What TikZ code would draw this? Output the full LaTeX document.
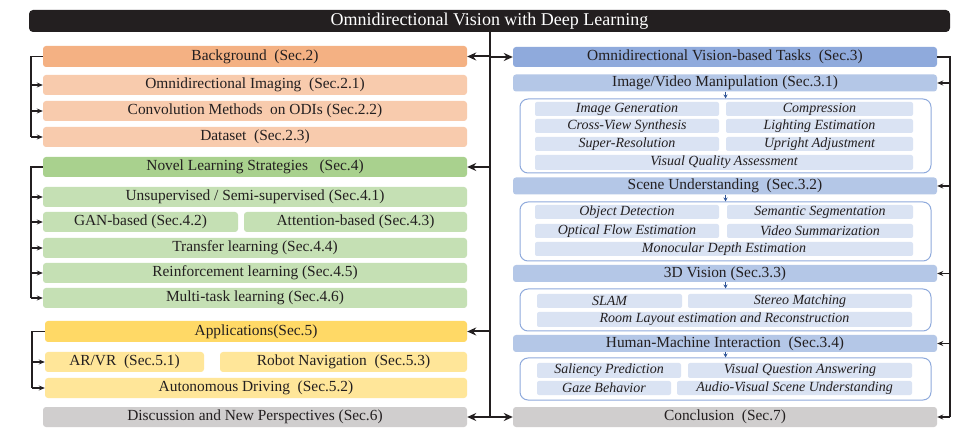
\documentclass[tikz,border=0pt]{standalone}
\usepackage{fontspec}
\setmainfont{Liberation Serif}
\usetikzlibrary{arrows.meta}
\definecolor{ink}{HTML}{231F20}
\definecolor{orgH}{HTML}{F4B183}
\definecolor{orgL}{HTML}{F8CBAD}
\definecolor{grnH}{HTML}{A9D18E}
\definecolor{grnL}{HTML}{C5E0B4}
\definecolor{ylwH}{HTML}{FFD966}
\definecolor{ylwL}{HTML}{FFE699}
\definecolor{gryB}{HTML}{D0CECE}
\definecolor{bluH}{HTML}{8FAADC}
\definecolor{bluM}{HTML}{B4C7E7}
\definecolor{bluL}{HTML}{DAE3F3}
\definecolor{bluA}{HTML}{2F5597}
\tikzset{
  box/.style={rectangle, rounded corners=3pt, inner sep=0pt, text=ink,
    font=\fontsize{15.4}{17}\selectfont},
  item/.style={rectangle, rounded corners=2pt, inner sep=0pt, fill=bluL, text=ink,
    minimum height=14pt, font=\fontsize{14}{15}\selectfont\itshape},
  cont/.style={rectangle, rounded corners=8pt, draw=bluH, line width=1pt, fill=white, inner sep=0pt},
  trunk/.style={draw=ink, line width=2pt},
  tarrow/.style={draw=ink, line width=2pt, -{Stealth[length=9pt,width=8pt]}},
  brk/.style={draw=ink, line width=1.5pt},
  barrow/.style={draw=ink, line width=1.5pt, -{Stealth[length=6pt,width=5pt]}},
  sarrow/.style={draw=bluA, line width=0.8pt, -{Stealth[length=4pt,width=4pt]}},
}
\begin{document}
\begin{tikzpicture}[x=1pt,y=-1pt]
\useasboundingbox[fill=white] (0,0) rectangle (977,435);
% title
\node[rectangle, rounded corners=4pt, fill=ink, text=white, minimum width=921pt, minimum height=22pt,
  inner sep=0pt, font=\fontsize{18}{20}\selectfont] (title) at (489.5,21) {Omnidirectional Vision with Deep Learning};
% left column
\node[box, fill=orgH, minimum width=424pt, minimum height=21pt] (bg) at (255,56.5) {Background\ \ (Sec.2)};
\node[box, fill=orgL, minimum width=424pt, minimum height=20pt] (bg1) at (255,85) {Omnidirectional Imaging\ \ (Sec.2.1)};
\node[box, fill=orgL, minimum width=424pt, minimum height=20pt] (bg2) at (255,111) {Convolution Methods\ \ on ODIs (Sec.2.2)};
\node[box, fill=orgL, minimum width=424pt, minimum height=20pt] (bg3) at (255,137) {Dataset\ \ (Sec.2.3)};
\node[box, fill=grnH, minimum width=424pt, minimum height=20pt] (nl) at (255,167) {Novel Learning Strategies\ \ \ (Sec.4)};
\node[box, fill=grnL, minimum width=424pt, minimum height=20pt] (nl1) at (255,197) {Unsupervised / Semi-supervised (Sec.4.1)};
\node[box, fill=grnL, minimum width=195pt, minimum height=20pt] (nl2) at (140.5,222) {GAN-based (Sec.4.2)};
\node[box, fill=grnL, minimum width=223pt, minimum height=20pt] (nl3) at (355.5,222) {Attention-based (Sec.4.3)};
\node[box, fill=grnL, minimum width=424pt, minimum height=20pt] (nl4) at (255,248) {Transfer learning (Sec.4.4)};
\node[box, fill=grnL, minimum width=424pt, minimum height=20pt] (nl5) at (255,273) {Reinforcement learning (Sec.4.5)};
\node[box, fill=grnL, minimum width=424pt, minimum height=20pt] (nl6) at (255,298) {Multi-task learning (Sec.4.6)};
\node[box, fill=ylwH, minimum width=422pt, minimum height=21pt] (ap) at (256,331.5) {Applications(Sec.5)};
\node[box, fill=ylwL, minimum width=159pt, minimum height=20pt] (ap1) at (124.5,362) {AR/VR\ \ (Sec.5.1)};
\node[box, fill=ylwL, minimum width=247pt, minimum height=20pt] (ap3) at (343.5,362) {Robot Navigation\ \ (Sec.5.3)};
\node[box, fill=ylwL, minimum width=422pt, minimum height=20pt] (ap2) at (256,388) {Autonomous Driving\ \ (Sec.5.2)};
\node[box, fill=gryB, minimum width=424pt, minimum height=20pt] (disc) at (255,417) {Discussion and New Perspectives (Sec.6)};
% right column
\node[box, fill=bluH, minimum width=424pt, minimum height=20pt] (tasks) at (725,57) {Omnidirectional Vision-based Tasks\ \ (Sec.3)};
\node[box, fill=bluM, minimum width=424pt, minimum height=17pt] (ivm) at (725,83) {Image/Video Manipulation (Sec.3.1)};
\node[cont, minimum width=411pt, minimum height=74pt] (c1) at (725.5,136) {};
\node[item, minimum width=184pt] (i1) at (627,109) {Image Generation};
\node[item, minimum width=187pt] (i2) at (819.5,109) {Compression};
\node[item, minimum width=184pt] (i3) at (627,126) {Cross-View Synthesis};
\node[item, minimum width=187pt] (i4) at (819.5,126) {Lighting Estimation};
\node[item, minimum width=184pt] (i5) at (627,144) {Super-Resolution};
\node[item, minimum width=187pt] (i6) at (819.5,144) {Upright Adjustment};
\node[item, minimum width=378pt, minimum height=15pt] (i7) at (724,162.5) {Visual Quality Assessment};
\node[box, fill=bluM, minimum width=424pt, minimum height=17pt] (su) at (725,186) {Scene Understanding\ \ (Sec.3.2)};
\node[cont, minimum width=411pt, minimum height=59pt] (c2) at (725.5,231.5) {};
\node[item, minimum width=184pt] (s1) at (627,212) {Object Detection};
\node[item, minimum width=186pt] (s2) at (820,212) {Semantic Segmentation};
\node[item, minimum width=184pt] (s3) at (627,231) {Optical Flow Estimation};
\node[item, minimum width=186pt] (s4) at (820,231) {Video Summarization};
\node[item, minimum width=378pt] (s5) at (724,249) {Monocular Depth Estimation};
\node[box, fill=bluM, minimum width=424pt, minimum height=17pt] (tdv) at (725,273.5) {3D Vision (Sec.3.3)};
\node[cont, minimum width=411pt, minimum height=42pt] (c3) at (725.5,310) {};
\node[item, minimum width=145pt] (d1) at (609.5,301) {SLAM};
\node[item, minimum width=224pt] (d2) at (800,301) {Stereo Matching};
\node[item, minimum width=375pt, minimum height=15pt] (d3) at (724.5,319.5) {Room Layout estimation and Reconstruction};
\node[box, fill=bluM, minimum width=424pt, minimum height=17pt] (hmi) at (725,343.5) {Human-Machine Interaction\ \ (Sec.3.4)};
\node[cont, minimum width=411pt, minimum height=42pt] (c4) at (725.5,379) {};
\node[item, minimum width=144pt, minimum height=15pt] (h1) at (609,370.5) {Saliency Prediction};
\node[item, minimum width=224pt, minimum height=15pt] (h2) at (800,370.5) {Visual Question Answering};
\node[item, minimum width=134pt] (h3) at (604,388) {Gaze Behavior};
\node[item, minimum width=235pt] (h4) at (794.5,388) {Audio-Visual Scene Understanding};
\node[box, fill=gryB, minimum width=424pt, minimum height=20pt] (concl) at (725,417) {Conclusion\ \ (Sec.7)};
% trunk
\coordinate (tTop) at (490,32);
\coordinate (tBot) at (490,417);
\draw[trunk] (tTop) -- (tBot);
\draw[tarrow] (tTop |- bg) -- (bg.east);
\draw[tarrow] (tTop |- tasks) -- (tasks.west);
\draw[tarrow] (tTop |- nl) -- (nl.east);
\draw[tarrow] (tTop |- ap) -- (ap.east);
\draw[tarrow] (tTop |- disc) -- (disc.east);
\draw[tarrow] (tBot) -- (concl.west);
% left brackets
\coordinate (lb) at (31,0);
\coordinate (la) at (32,0);
\draw[brk] (bg.west) -- (lb |- bg) -- (lb |- bg3);
\foreach \n in {bg1,bg2,bg3} \draw[barrow] (lb |- \n) -- (\n.west);
\draw[brk] (nl.west) -- (lb |- nl) -- (lb |- nl6);
\foreach \n in {nl1,nl2,nl4,nl5,nl6} \draw[barrow] (lb |- \n) -- (\n.west);
\draw[brk] (ap.west) -- (la |- ap) -- (la |- ap2);
\foreach \n in {ap1,ap2} \draw[barrow] (la |- \n) -- (\n.west);
% right bracket
\coordinate (rb) at (950,0);
\draw[brk] (tasks.east) -- (rb |- tasks) -- (rb |- concl);
\foreach \n in {ivm,su,tdv,hmi,concl} \draw[barrow] (rb |- \n) -- (\n.east);
% small arrows
\draw[sarrow] (ivm.south -| c1.north) -- (c1.north);
\draw[sarrow] (su.south -| c2.north) -- (c2.north);
\draw[sarrow] (tdv.south -| c3.north) -- (c3.north);
\draw[sarrow] (hmi.south -| c4.north) -- (c4.north);
\end{tikzpicture}
\end{document}
